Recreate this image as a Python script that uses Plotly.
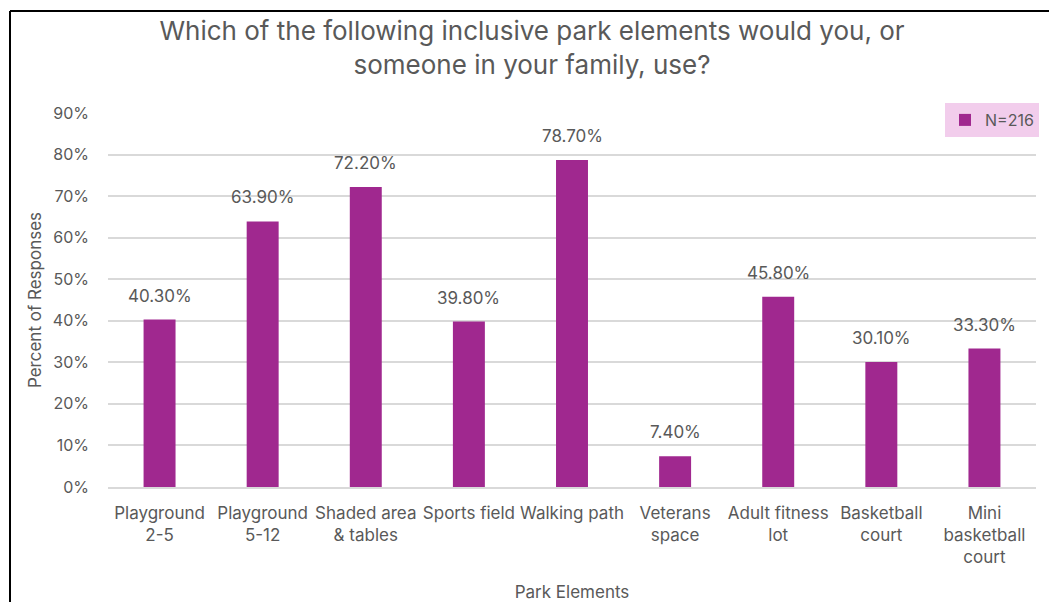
import plotly.graph_objects as go

categories = [
    "Playground<br>2-5",
    "Playground<br>5-12",
    "Shaded area<br>& tables",
    "Sports field",
    "Walking path",
    "Veterans<br>space",
    "Adult fitness<br>lot",
    "Basketball<br>court",
    "Mini<br>basketball<br>court",
]
percent_values = [40.3, 63.9, 72.2, 39.8, 78.7, 7.4, 45.8, 30.1, 33.3]
y_ticks = [0, 10, 20, 30, 40, 50, 60, 70, 80, 90]
y_tick_labels = ["0%", "10%", "20%", "30%", "40%", "50%", "60%", "70%", "80%", "90%"]
legend_label = "N=216"

BAR_COLOR = "#a0288f"
TEXT_COLOR = "#595959"
GRID_COLOR = "#d9d9d9"
FONT = "Inter"

W, H = 1049, 602
L, R, T, B = 108, 13, 113, 115
plot_w = W - L - R
plot_h = H - T - B

fig = go.Figure()
fig.add_trace(go.Bar(
    x=categories,
    y=percent_values,
    name=legend_label,
    marker=dict(color=BAR_COLOR, line=dict(width=0)),
    showlegend=True,
))

# value labels above each bar
for cat, val in zip(categories, percent_values):
    fig.add_annotation(
        x=cat, y=val, xref="x", yref="y",
        text=f"{val:.2f}%", showarrow=False,
        yanchor="bottom", yshift=12,
        font=dict(family=FONT, size=17, color=TEXT_COLOR),
    )

def px_x(p):
    return (p - L) / plot_w

def px_y(p):
    return 1 + (T - p) / plot_h

# chart frame (left and top edges)
fig.add_shape(type="line", xref="paper", yref="paper",
              x0=px_x(10), x1=px_x(10), y0=px_y(11), y1=px_y(640),
              line=dict(color="#000000", width=2))
fig.add_shape(type="line", xref="paper", yref="paper",
              x0=px_x(10), x1=px_x(1100), y0=px_y(11), y1=px_y(11),
              line=dict(color="#000000", width=2))

fig.update_layout(
    width=W, height=H,
    margin=dict(l=L, r=R, t=T, b=B, autoexpand=False),
    paper_bgcolor="white", plot_bgcolor="white",
    font=dict(family=FONT, color=TEXT_COLOR, size=17),
    title=dict(
        text="Which of the following inclusive park elements would you, or<br>someone in your family, use?",
        x=532 / W, xanchor="center", y=1 - 40 / H, yanchor="middle",
        font=dict(family=FONT, size=26, color=TEXT_COLOR),
    ),
    bargap=0.69,
    legend=dict(
        x=px_x(945), y=px_y(103), xanchor="left", yanchor="top",
        bgcolor="#f2cdec", borderwidth=0,
        font=dict(family=FONT, size=16, color=TEXT_COLOR),
        itemwidth=30,
    ),
    xaxis=dict(
        title=dict(text="Park Elements", standoff=25,
                   font=dict(family=FONT, size=17, color=TEXT_COLOR)),
        showline=True, linecolor=GRID_COLOR, linewidth=1.5,
        ticks="", ticklabelstandoff=10,
        tickfont=dict(family=FONT, size=17, color=TEXT_COLOR),
        showgrid=False,
    ),
    yaxis=dict(
        title=dict(text="Percent of Responses", standoff=6,
                   font=dict(family=FONT, size=17, color=TEXT_COLOR)),
        range=[0, 90], tickvals=y_ticks, ticktext=y_tick_labels,
        showgrid=True, gridcolor=GRID_COLOR, gridwidth=1.5,
        zeroline=False, ticks="", ticklabelstandoff=18,
        tickfont=dict(family=FONT, size=16, color=TEXT_COLOR),
    ),
)

fig.write_html("out.html")
